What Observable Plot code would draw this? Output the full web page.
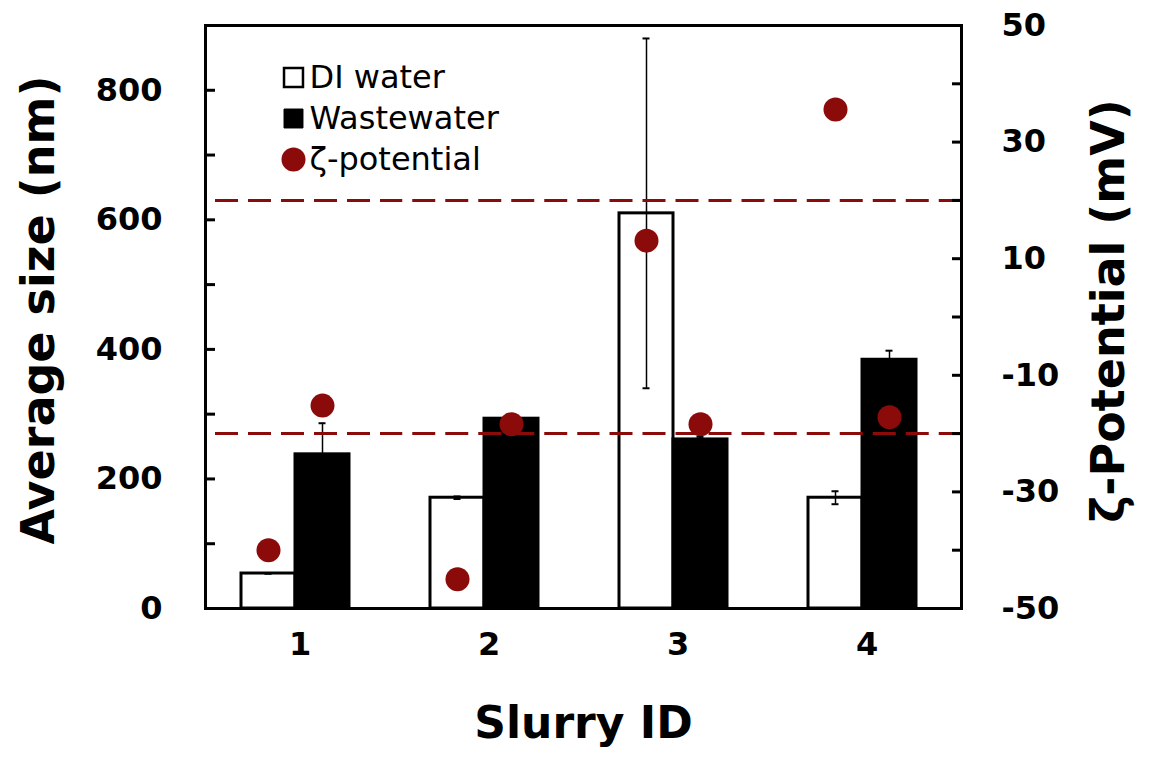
<!DOCTYPE html>
<html>
<head>
<meta charset="utf-8">
<script src="https://cdn.jsdelivr.net/npm/d3@7"></script>
<script src="https://cdn.jsdelivr.net/npm/@observablehq/plot@0.6"></script>
<style>
  body { margin: 0; background: #fff; }
</style>
</head>
<body>
<div id="chart"></div>
<script>
// Slurry samples and the two dispersion media
const slurryIds = ["1", "2", "3", "4"];
const seriesNames = ["DI water", "Wastewater"];

// Average particle size (nm) with standard deviation
const diWaterSize = [54, 171, 610, 171];
const diWaterError = [0, 2, 270, 10];
const wastewaterSize = [238, 293, 261, 384];
const wastewaterError = [48, 6, 4, 14];

// Zeta potential (mV) measured for each medium
const diWaterZeta = [-40.0, -45.0, 13.1, 35.6];
const wastewaterZeta = [-15.2, -18.4, -18.4, -17.2];

// Colloidal stability limits (mV)
const stabilityLimits = [20, -20];

// Axis tick values
const sizeMinorTicks = d3.range(0, 901, 100);
const sizeTickLabels = [0, 200, 400, 600, 800];
const zetaMinorTicks = d3.range(-50, 51, 10);
const zetaTickLabels = [-50, -30, -10, 10, 30, 50];

const legendLabels = ["DI water", "Wastewater", "ζ-potential"];

const darkRed = "#8b0b0b";

// The right axis (-50..50 mV) shares the 0..900 nm frame of the left axis
const toNm = (mV) => (mV + 50) * 9;
const toMv = (nm) => nm / 9 - 50;

const rows = slurryIds.flatMap((id, i) => [
  {id, series: seriesNames[0], size: diWaterSize[i], err: diWaterError[i], zeta: diWaterZeta[i]},
  {id, series: seriesNames[1], size: wastewaterSize[i], err: wastewaterError[i], zeta: wastewaterZeta[i]}
]);

const width = 1153, marginLeft = 203, marginRight = 191;
const facetWidth = (width - marginLeft - marginRight) / slurryIds.length;
const dash = 23, gap = 10;
const legendRowGap = 41;

// dashed limit lines, one piece per facet with a continuous dash phase
const limitLines = slurryIds.map((id, i) =>
  Plot.ruleY(stabilityLimits, {
    fx: () => id, y: toNm, stroke: darkRed, strokeWidth: 3,
    strokeDasharray: `${dash},${gap}`,
    strokeDashoffset: (dash + i * facetWidth) % (dash + gap)
  })
);

const chart = Plot.plot({
  width,
  height: 758,
  marginLeft,
  marginRight,
  marginTop: 25,
  marginBottom: 150,
  style: {fontFamily: "DejaVu Sans", fontWeight: "bold", background: "white", color: "black", overflow: "visible"},
  fx: {domain: slurryIds, padding: 0},
  x: {domain: seriesNames, paddingInner: 0, paddingOuter: 0.725, align: 0.45, axis: null},
  y: {domain: [0, 900], axis: null},
  marks: [
    // bars
    Plot.barY(rows, {filter: d => d.series === "DI water", fx: "id", x: "series", y: "size", fill: "white", stroke: "black", strokeWidth: 3}),
    Plot.barY(rows, {filter: d => d.series === "Wastewater", fx: "id", x: "series", y: "size", fill: "black", stroke: "black", strokeWidth: 3}),
    // error bars
    Plot.ruleX(rows, {fx: "id", x: "series", y1: d => d.size - d.err, y2: d => d.size + d.err, stroke: "black", strokeWidth: 1.5}),
    Plot.tickY(rows, {fx: "id", x: "series", y: d => d.size + d.err, insetLeft: 23.5, insetRight: 23.5, stroke: "black", strokeWidth: 2}),
    Plot.tickY(rows, {fx: "id", x: "series", y: d => d.size - d.err, insetLeft: 23.5, insetRight: 23.5, stroke: "black", strokeWidth: 2}),
    // stability limits
    ...limitLines,
    // zeta potential
    Plot.dot(rows, {fx: "id", x: "series", y: d => toNm(d.zeta), r: 12, fill: darkRed, stroke: "none"}),
    // frame
    Plot.frame({facet: "super", stroke: "black", strokeWidth: 3}),
    // left axis
    Plot.axisY({anchor: "left", ticks: sizeMinorTicks, tickSize: -10, strokeWidth: 3, fill: "none", label: null}),
    Plot.axisY({anchor: "left", ticks: sizeTickLabels, tickSize: 0, tickPadding: 43, fontSize: 32, label: null}),
    // right axis
    Plot.axisY({anchor: "right", ticks: zetaMinorTicks.map(toNm), tickSize: -10, strokeWidth: 3, fill: "none", label: null}),
    Plot.axisY({anchor: "right", ticks: zetaTickLabels.map(toNm), tickFormat: d => String(Math.round(toMv(d))), tickSize: 0, tickPadding: 40, fontSize: 32, label: null}),
    // category axis
    Plot.axisFx({anchor: "bottom", tickSize: 0, tickPadding: 24, fontSize: 32, label: null}),
    // axis titles
    Plot.text(["Slurry ID"], {text: d => d, frameAnchor: "bottom", textAnchor: "middle", lineAnchor: "middle", dy: 115, fontSize: 44, facet: "super"}),
    Plot.text(["Average size (nm)"], {text: d => d, frameAnchor: "left", textAnchor: "middle", lineAnchor: "middle", dx: -166, dy: -7, rotate: -90, fontSize: 46, facet: "super"}),
    Plot.text(["ζ-Potential (mV)"], {text: d => d, frameAnchor: "right", textAnchor: "middle", lineAnchor: "middle", dx: 148, dy: -6, rotate: -90, fontSize: 46, facet: "super"}),
    // legend
    Plot.dot([0], {frameAnchor: "top-left", dx: 88, dy: 52, symbol: "square", r: 10.7, fill: "white", stroke: "black", strokeWidth: 2.5, facet: "super"}),
    Plot.dot([0], {frameAnchor: "top-left", dx: 88, dy: 52 + legendRowGap, symbol: "square", r: 10.7, fill: "black", stroke: "black", strokeWidth: 1, facet: "super"}),
    Plot.dot([0], {frameAnchor: "top-left", dx: 88, dy: 52 + 2 * legendRowGap, r: 12, fill: darkRed, stroke: "none", facet: "super"}),
    ...legendLabels.map((label, i) =>
      Plot.text([label], {text: d => d, frameAnchor: "top-left", textAnchor: "start", lineAnchor: "middle", dx: 104, dy: 52 + i * legendRowGap, fontSize: 32, fontWeight: "normal", facet: "super"})
    )
  ]
});

document.getElementById("chart").append(chart);
</script>
</body>
</html>
